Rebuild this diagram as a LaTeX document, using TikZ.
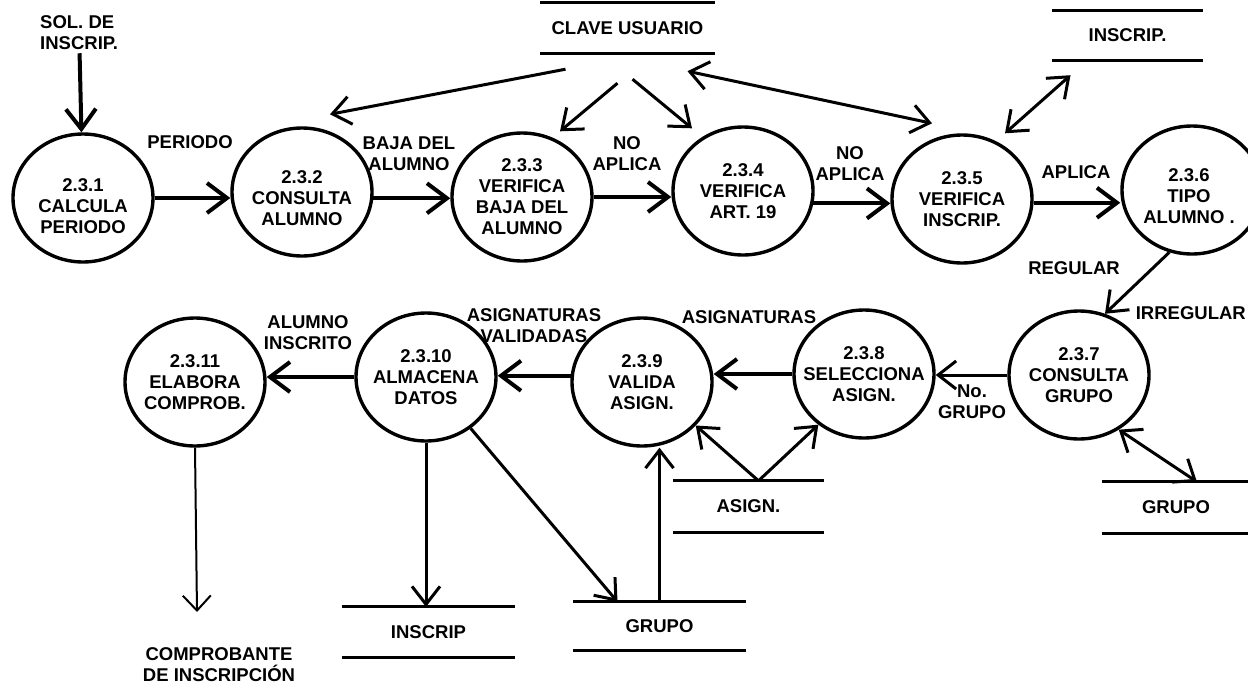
\documentclass[tikz,border=0pt]{standalone}
\usepackage{fontspec}
\setmainfont{Liberation Sans}
\usetikzlibrary{arrows.meta,shapes.geometric,calc}
\begin{document}
\begin{tikzpicture}[x=1pt,y=-1pt,
  every node/.style={font=\fontsize{18.5}{21}\selectfont\bfseries, text=black},
  proc/.style={ellipse, draw, line width=3.4pt, minimum width=140pt, minimum height=128pt, inner sep=0pt},
  ptext/.style={align=center, inner sep=0pt},
  lbl/.style={align=center, inner sep=0pt},
  storeline/.style={line width=3pt},
  store/.style={inner sep=0pt, minimum height=50pt,
    append after command={
      (\tikzlastnode.north west) edge[storeline] (\tikzlastnode.north east)
      (\tikzlastnode.south west) edge[storeline] (\tikzlastnode.south east)}},
  flow/.style={line width=4pt, -{Straight Barb[length=20pt,width=30pt]}},
  link/.style={line width=3pt, -{Straight Barb[length=18pt,width=28pt]}},
  blink/.style={line width=3pt, {Straight Barb[length=18pt,width=28pt]}-{Straight Barb[length=18pt,width=28pt]}},
  thinflow/.style={line width=2pt, -{Straight Barb[length=15pt,width=28pt]}},
]
\fill[white] (0,0) rectangle (1248,686);
\useasboundingbox (0,0) rectangle (1248,686);

% processes
\node[proc,label={[ptext,yshift=-8pt]center:2.3.1\\CALCULA\\PERIODO}] (c1) at (83,198) {};
\node[proc,label={[ptext,yshift=-6pt]center:2.3.2\\CONSULTA\\ALUMNO}] (c2) at (302,192) {};
\node[proc,label={[ptext]center:2.3.3\\VERIFICA\\BAJA DEL\\ALUMNO}] (c3) at (522,197) {};
\node[proc,label={[ptext]center:2.3.4\\VERIFICA\\ART. 19}] (c4) at (743,191) {};
\node[proc,label={[ptext]center:2.3.5\\VERIFICA\\INSCRIP.}] (c5) at (962,199) {};
\node[proc,label={[ptext,yshift=-6pt,xshift=-3pt]center:2.3.6\\TIPO\\ALUMNO .}] (c6) at (1192,190) {};
\node[proc,label={[ptext]center:2.3.7\\CONSULTA\\GRUPO}] (c7) at (1079,375) {};
\node[proc,label={[ptext]center:2.3.8\\SELECCIONA\\ASIGN.}] (c8) at (864,374) {};
\node[proc,label={[ptext]center:2.3.9\\VALIDA\\ASIGN.}] (c9) at (642,382) {};
\node[proc,label={[ptext]center:2.3.10\\ALMACENA\\DATOS}] (c10) at (426,377) {};
\node[proc,label={[ptext]center:2.3.11\\ELABORA\\COMPROB.}] (c11) at (195,382) {};

% data stores
\node[store, minimum width=175pt] (clave) at (627.5,28) {CLAVE USUARIO};
\node[store, minimum width=151pt, minimum height=49pt] (insc1) at (1127.5,35.5) {INSCRIP.};
\node[store, minimum width=173pt] (insc2) at (428.5,632) {INSCRIP};
\node[store, minimum width=173pt, minimum height=48pt] (grupo2) at (659.5,626) {GRUPO};
\node[store, minimum width=151pt, minimum height=51pt] (asign) at (748.5,506.5) {ASIGN.};
\node[store, minimum width=148pt, minimum height=51pt] (grupo3) at (1176,507.5) {GRUPO};

% labels
\node[lbl, align=left, anchor=west] (sol) at (40,33) {SOL. DE\\INSCRIP.};
\node[lbl] (lperiodo) at (190,142) {PERIODO};
\node[lbl] (lbaja) at (409,154) {BAJA DEL\\ALUMNO};
\node[lbl] (lnoap1) at (627,154) {NO\\APLICA};
\node[lbl] (lnoap2) at (850,164) {NO\\APLICA};
\node[lbl] (laplica) at (1076,172) {APLICA};
\node[lbl] (lregular) at (1074,268) {REGULAR};
\node[lbl, anchor=east] (lirreg) at (1246,313) {IRREGULAR};
\node[lbl] (lnogrupo) at (972,402) {No.\\GRUPO};
\node[lbl] (lasig) at (749,317) {ASIGNATURAS};
\node[lbl] (lasigval) at (534,326) {ASIGNATURAS\\VALIDADAS};
\node[lbl] (lalumins) at (308,333) {ALUMNO\\INSCRITO};
\node[lbl] (lcomp) at (219,665) {COMPROBANTE\\DE INSCRIPCIÓN};
\coordinate (compin) at (197,612);

% flows
\draw[flow, shorten <=3pt] (sol) -- (c1);
\draw[flow] (c1.east) -- (c1.east -| c2.west);
\draw[flow] (c2.355) -- (c2.355 -| c3.west);
\draw[flow] (c3.east) -- (c3.east -| c4.west);
\draw[flow] (c4.350) -- (c4.350 -| c5.west);
\draw[flow] (c5.357) -- (c5.357 -| c6.west);
\draw[link] (c6.250) -- (c7.67);
\draw[link] (c7.west) -- (c7.west -| c8.east);
\draw[flow] (c8.west) -- (c8.west -| c9.east);
\draw[flow] (c9.175) -- (c9.175 -| c10.east);
\draw[flow] (c10.west) -- (c10.west -| c11.east);
\draw[thinflow] (c11.south) -- (compin);

\draw[link] (c10.south) -- (c10.south |- insc2.north);
\draw[link] (c10.311) -- ([xshift=-42pt]grupo2.north);
\draw[link] (grupo2.north) -- (grupo2.north |- c9.south);
\draw[link] ([xshift=10pt]asign.north) -- (c9.321);
\draw[link] ([xshift=10pt]asign.north) -- (c8.228);
\draw[blink] ([xshift=21pt]grupo3.north) -- (c7.306);

\draw[link] ([xshift=-62pt,yshift=-16pt]clave.south) -- ([xshift=28pt,yshift=12pt]c2.north);
\draw[link] ([xshift=-10pt,yshift=-30pt]clave.south) -- ([xshift=38pt]c3.north);
\draw[link] ([xshift=5pt,yshift=-26pt]clave.south) -- ([xshift=-51pt,yshift=-3pt]c4.north);
\draw[blink] ([xshift=60pt,yshift=-18pt]clave.south) -- ([xshift=-30pt,yshift=10pt]c5.north);
\draw[blink] ([xshift=-57pt,yshift=-15pt]insc1.south) -- ([xshift=43pt]c5.north);
\end{tikzpicture}
\end{document}
